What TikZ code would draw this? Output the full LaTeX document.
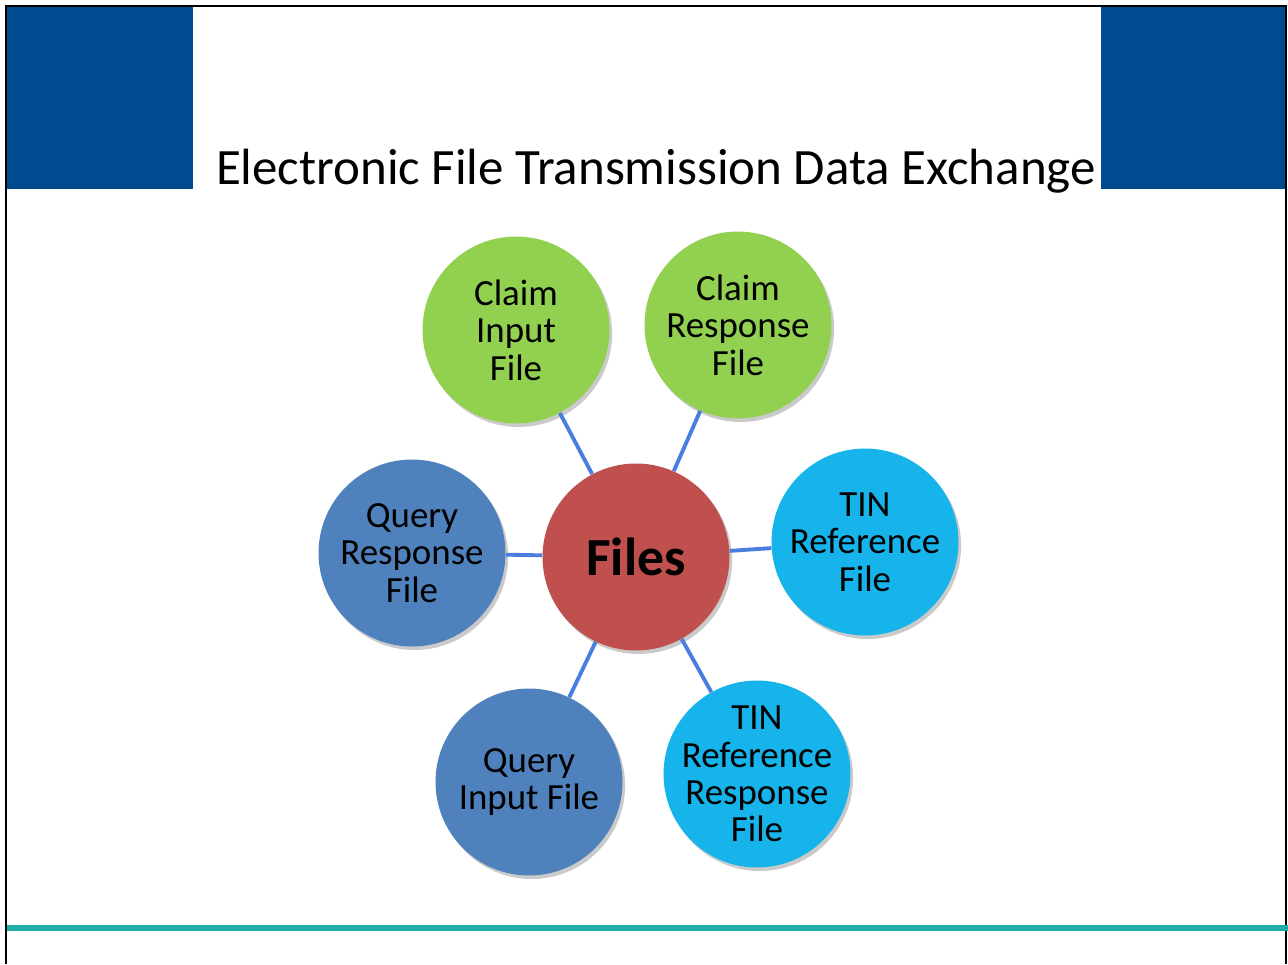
\documentclass[tikz,border=0pt]{standalone}
\usepackage{fontspec}
\setmainfont{Carlito}
\usepackage{xcolor}
\usetikzlibrary{shadows}
\definecolor{bannerblue}{RGB}{0,74,143}
\definecolor{claimgreen}{RGB}{146,208,80}
\definecolor{filesred}{RGB}{192,80,77}
\definecolor{queryblue}{RGB}{79,129,189}
\definecolor{tincyan}{RGB}{22,180,234}
\definecolor{spokeblue}{RGB}{74,126,222}
\definecolor{rulecyan}{RGB}{32,172,168}
\newcommand{\bubbletext}{\fontsize{21}{21.3}\selectfont}

\begin{document}
\begin{tikzpicture}[x=0.02cm,y=-0.02cm,
    bubble/.style={circle, minimum size=3.74cm, inner sep=-0.6cm, align=center,
      font=\bubbletext,
      drop shadow={shadow xshift=1.5pt, shadow yshift=-2pt, opacity=0.35, fill=black!60}},
    spoke/.style={spokeblue, line width=2.2pt}]
                \useasboundingbox (0,0) rectangle (1288,964);
                % frame and banner
                \draw[line width=0.8pt] (6,964) -- (6,6) -- (1286,6) -- (1286,964);
                \fill[bannerblue] (7,7) rectangle (193,189);
                \fill[bannerblue] (1101,7) rectangle (1285,189);
                \node[anchor=base, font=\fontsize{29}{34}\selectfont] (title) at (656,184)
                  {Electronic File Transmission Data Exchange};
                \fill[rulecyan] (7,925) rectangle (1288,931);

                % bubbles
                \node[bubble, fill=filesred, font=\fontsize{30.5}{34}\selectfont\bfseries] (files) at (636,557) {Files};
                \node[bubble, fill=claimgreen] (claimin) at (516,330) {Claim\\Input\\File};
                \node[bubble, fill=claimgreen] (claimresp) at (738,325) {Claim\\Response\\File};
                \node[bubble, fill=tincyan] (tinref) at (865,542) {TIN\\Reference\\File};
                \node[bubble, fill=tincyan] (tinresp) at (757,774) {TIN\\Reference\\Response\\File};
                \node[bubble, fill=queryblue] (queryin) at (529,782) {Query\\Input File};
                \node[bubble, fill=queryblue] (queryresp) at (412,553) {Query\\Response\\File};

                % spokes
                \foreach \n in {claimin,claimresp,tinref,tinresp,queryin,queryresp}
                  \draw[spoke] (files) -- (\n);

            \end{tikzpicture}
\end{document}
